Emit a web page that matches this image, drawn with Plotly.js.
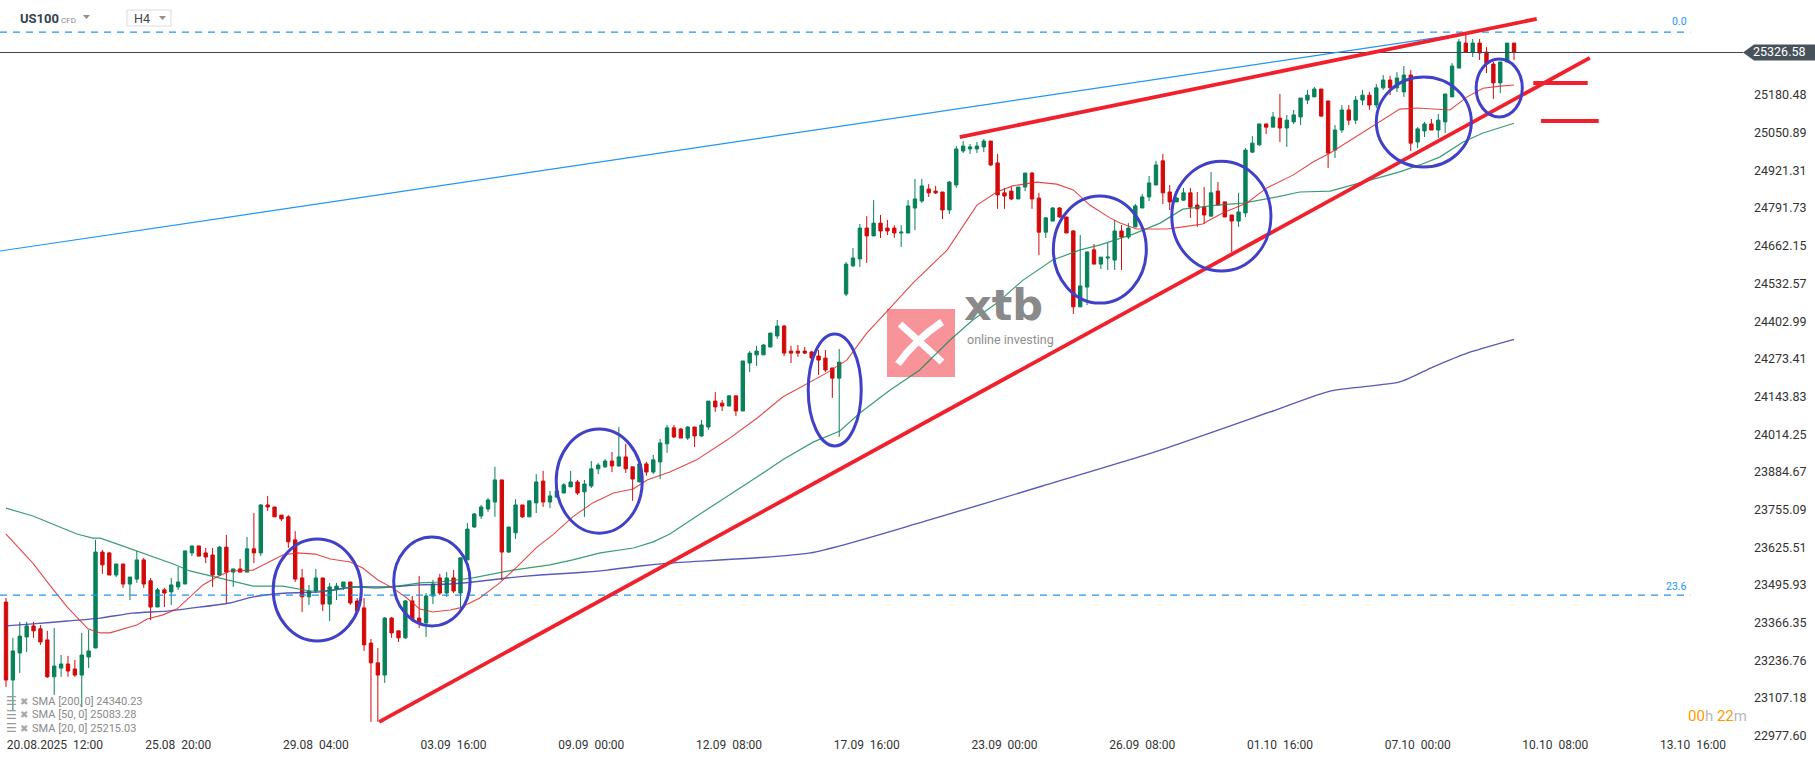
<!DOCTYPE html>
<html><head><meta charset="utf-8">
<script src="https://cdn.plot.ly/plotly-3.0.1.min.js"></script>
<style>html,body{margin:0;padding:0;background:#fff;overflow:hidden}#chart{width:1815px;height:761px}</style>
</head><body><div id="chart"></div>
<script>
// ---------- DATA (US100 CFD, H4) ----------
const open = [23437,23169,23262,23317,23355,23345,23307,23180,23210,23224,23207,23186,23248,23279,23609,23606,23530,23568,23499,23516,
23582,23510,23420,23479,23472,23489,23499,23606,23630,23606,23599,23530,23626,23540,23551,23540,23620,23606,23771,23764,
23736,23730,23651,23520,23455,23475,23520,23430,23482,23489,23506,23441,23417,23296,23228,23186,23382,23338,23314,23441,
23382,23365,23458,23520,23468,23520,23468,23582,23695,23733,23757,23781,23857,23609,23675,23771,23730,23778,23853,23781,
23798,23812,23833,23850,23816,23836,23895,23902,23922,23905,23936,23902,23850,23912,23884,23919,23981,24036,24032,24001,
24039,24008,24039,24128,24121,24111,24146,24094,24259,24287,24287,24314,24352,24386,24300,24300,24300,24297,24283,24276,
24242,24207,24496,24593,24617,24723,24696,24740,24723,24723,24706,24706,24792,24816,24857,24850,24847,24785,24871,24988,
24995,24995,25002,25022,24947,24844,24850,24823,24864,24912,24826,24709,24747,24792,24761,24713,24452,24520,24648,24599,
24620,24613,24713,24692,24727,24792,24830,24871,24954,24847,24813,24819,24844,24802,24795,24764,24850,24813,24768,24747,
24775,24984,25009,25081,25070,25101,25067,25088,25105,25163,25174,25201,25160,24991,25060,25129,25094,25163,25180,25146,
25205,25232,25205,25191,25249,25019,25057,25081,25060,25088,25174,25273,25359,25328,25359,25328,25287,25222,25294,25359];
const high = [23451,23314,23369,23369,23369,23358,23338,23348,23255,23252,23238,23331,23341,23651,23616,23609,23568,23568,23523,23613,
23589,23520,23486,23486,23520,23558,23613,23630,23630,23623,23623,23630,23668,23551,23585,23661,23743,23774,23802,23764,
23736,23736,23681,23551,23496,23551,23520,23503,23503,23506,23506,23451,23451,23310,23279,23386,23386,23338,23444,23458,
23527,23468,23513,23534,23540,23547,23589,23709,23743,23771,23795,23902,23857,23695,23791,23771,23785,23877,23888,23819,
23826,23846,23888,23857,23857,23922,23915,23929,23953,24039,23981,23902,23912,23919,23943,23998,24046,24046,24036,24042,
24039,24063,24128,24159,24132,24149,24146,24266,24300,24318,24324,24362,24407,24390,24318,24321,24314,24300,24304,24304,
24242,24307,24606,24654,24737,24764,24819,24768,24751,24733,24733,24819,24892,24892,24874,24868,24847,24885,25005,25022,
25012,25019,25029,25022,24978,24861,24864,24864,24912,24916,24844,24761,24795,24795,24761,24716,24699,24641,24668,24623,
24672,24751,24733,24740,24806,24840,24902,24954,24978,24871,24830,24861,24861,24847,24864,24916,24881,24813,24768,24844,
24998,25039,25081,25081,25122,25184,25112,25129,25170,25198,25208,25201,25160,25077,25146,25146,25177,25198,25191,25218,
25249,25246,25259,25280,25266,25070,25088,25098,25115,25184,25290,25373,25394,25373,25373,25345,25294,25294,25359,25359];
const low = [23145,23066,23193,23265,23314,23290,23176,23118,23180,23180,23180,23076,23210,23279,23534,23530,23523,23486,23444,23503,
23486,23375,23420,23420,23427,23479,23499,23595,23595,23571,23489,23530,23434,23489,23540,23540,23571,23595,23750,23730,
23716,23623,23506,23403,23427,23468,23406,23372,23444,23479,23427,23400,23269,23025,23025,23159,23314,23300,23310,23369,
23348,23317,23430,23461,23455,23468,23417,23582,23692,23723,23747,23730,23513,23606,23654,23726,23730,23743,23764,23760,
23795,23812,23833,23805,23730,23829,23877,23898,23884,23902,23881,23785,23850,23871,23877,23860,23950,24001,24001,23994,
23970,24005,24029,24091,24094,24111,24077,24094,24228,24249,24287,24314,24342,24283,24259,24280,24290,24269,24218,24228,
24139,24005,24489,24589,24589,24603,24696,24689,24699,24689,24658,24706,24716,24809,24830,24840,24754,24771,24861,24981,
24978,24981,24984,24936,24789,24789,24819,24823,24850,24789,24630,24689,24747,24758,24706,24428,24452,24458,24599,24582,
24579,24579,24579,24685,24727,24792,24816,24871,24806,24785,24813,24816,24758,24727,24737,24764,24802,24761,24641,24727,
24761,24981,25005,25046,25070,25019,25002,25081,25077,25149,25174,25105,24929,24964,25050,25077,25081,25146,25129,25136,
25198,25180,25191,25174,24988,24998,25036,25060,25033,25050,25174,25273,25325,25311,25301,25256,25167,25187,25294,25301];
const close = [23169,23269,23320,23355,23338,23300,23180,23217,23224,23200,23186,23255,23269,23609,23565,23530,23568,23499,23523,23582,
23499,23420,23479,23468,23496,23506,23613,23630,23595,23592,23530,23626,23540,23551,23540,23620,23606,23771,23764,23730,
23723,23644,23516,23455,23475,23520,23430,23489,23492,23506,23434,23406,23290,23228,23186,23382,23331,23314,23441,23379,
23365,23458,23499,23468,23520,23475,23589,23688,23740,23764,23788,23857,23609,23695,23771,23730,23785,23850,23781,23802,
23819,23840,23850,23812,23843,23895,23908,23922,23905,23936,23895,23860,23912,23884,23926,23984,24036,24005,24001,24039,
24008,24046,24128,24108,24111,24146,24094,24266,24293,24300,24321,24362,24386,24293,24293,24293,24293,24276,24269,24235,
24207,24262,24599,24620,24723,24696,24740,24713,24713,24706,24709,24799,24823,24868,24844,24844,24785,24881,24995,25005,
25002,25005,25022,24940,24837,24833,24823,24864,24912,24823,24709,24758,24792,24761,24706,24452,24524,24641,24599,24623,
24623,24713,24692,24723,24799,24830,24878,24940,24844,24813,24826,24844,24795,24789,24768,24844,24802,24761,24747,24778,
24991,25015,25081,25070,25105,25067,25094,25112,25170,25180,25201,25108,24981,25060,25129,25094,25163,25180,25146,25205,
25232,25205,25239,25249,25015,25064,25081,25060,25094,25184,25280,25363,25328,25359,25325,25290,25222,25294,25359,25326.58];

// Simple moving averages (bar position, value)
const sma20Bar = [0,3.9,6.1,8.9,11.9,13.7,15.1,17.0,19.0,20.5,22.8,24.8,26.7,28.6,30.6,32.5,35.9,38.3,40.2,42.3,44.9,47.1,50.0,51.8,54.0,56.2,58.2,60.1,62.0,64.5,65.9,68.8,71.7,74.2,77.1,79.4,82.3,85.2,88.2,91.1,93.1,96.4,100.3,104.7,109.1,112.8,116.8,119.2,122.1,125.0,128.1,131.7,136.7,141.0,143.9,146.2,149.7,152.6,155.0,157.4,160.3,161.8,164.2,168.6,170.9,173.8,174.8,176.7,180.2,183.1,186.9,189.8,192.3,202.4,204.9,209.7,212.2,214.5,217.0,219];
const sma20Val = [23671,23571,23503,23420,23345,23331,23331,23345,23358,23379,23393,23413,23455,23496,23523,23544,23547,23575,23599,23606,23602,23585,23575,23554,23513,23485,23451,23413,23403,23410,23417,23451,23503,23558,23626,23668,23730,23778,23812,23826,23857,23884,23926,23994,24070,24142,24194,24225,24269,24362,24441,24534,24648,24802,24847,24868,24881,24874,24854,24802,24758,24740,24720,24720,24727,24737,24751,24775,24809,24861,24905,24950,24981,25132,25136,25129,25174,25204,25211,25215.03];
const sma50Bar = [0,3.9,6.4,10.3,12.6,13.7,16.6,19.0,21.3,24.3,26.7,29.2,32.5,35.9,40.2,44.1,47.1,50.4,53.9,56.2,60.1,63.0,67.8,70.7,73.6,79.0,82.3,86.3,91.1,94.0,96.4,99.9,105.1,109.5,112.8,117.2,121.1,124.0,128.4,132.7,137.1,140.4,143.9,147.7,152.0,156.0,158.9,163.7,167.6,170.9,175.9,179.6,184.6,187.9,192.3,202.4,205.3,208.2,211.6,214.5,219];
const sma50Val = [23760,23733,23709,23671,23657,23657,23633,23613,23592,23568,23544,23530,23510,23492,23492,23475,23475,23489,23485,23489,23503,23506,23520,23534,23547,23565,23582,23606,23623,23644,23671,23726,23805,23874,23926,23987,24025,24087,24166,24235,24338,24407,24465,24544,24613,24648,24665,24702,24740,24788,24802,24809,24830,24847,24850,24916,24940,24967,25019,25050,25083.28];
const sma200Bar = [0,3.9,8.9,13.7,18.4,23.4,28.2,32.5,35.9,40.8,45.6,50.4,55.3,60.1,64.5,67.8,72.8,77.5,82.3,87.3,92.1,96.4,116.8,133.6,150.5,167.2,184.0,192.4,202.4,207.2,212.2,219];
const sma200Val = [23355,23362,23372,23382,23399,23406,23420,23434,23455,23468,23472,23489,23489,23496,23499,23506,23520,23530,23537,23547,23561,23571,23606,23716,23836,23956,24094,24163,24194,24245,24293,24340.23];
const smaNames = ['SMA [200, 0]','SMA [50, 0]','SMA [20, 0]'];

// Axis labels
const xTickLabels = ['20.08.2025\u00a0 12:00','25.08\u00a0 20:00','29.08\u00a0 04:00','03.09\u00a0 16:00','09.09\u00a0 00:00','12.09\u00a0 08:00','17.09\u00a0 16:00','23.09\u00a0 00:00','26.09\u00a0 08:00','01.10\u00a0 16:00','07.10\u00a0 00:00','10.10\u00a0 08:00','13.10\u00a0 16:00'];
const xTickBars = [7.1,25,45,65,85,105,125,145,165,185,205,225,245];
const yTickVals = [22977.60,23107.18,23236.76,23366.35,23495.93,23625.51,23755.09,23884.67,24014.25,24143.83,24273.41,24402.99,24532.57,24662.15,24791.73,24921.31,25050.89,25180.48];

// Analyst drawings (bar position, price)
const fibLevels = [{label:'0.0', price:25397}, {label:'23.6', price:23461}];
const fibEndBar = 244.6;
const blueTrend = {bars:[-0.871,212.2], prices:[24644,25393]};
const upperTrend = {bars:[138.5,222.3], prices:[25036,25442]};
const lowerTrend = {bars:[54.2,230.0], prices:[23025,25308]};
const levelMarks = [{bars:[221.8,229.7], price:25222},{bars:[222.9,231.3], price:25091}];
const circles = [
  {bars:[38.8,51.6], prices:[23303,23654]},
  {bars:[56.3,67.4], prices:[23355,23661]},
  {bars:[79.9,92.4], prices:[23674,24032]},
  {bars:[116.5,124.2], prices:[23974,24359]},
  {bars:[152.1,165.6], prices:[24465,24833]},
  {bars:[169.3,183.7], prices:[24575,24953]},
  {bars:[199.0,212.8], prices:[24933,25242]},
  {bars:[213.5,220.2], prices:[25105,25304]}
];

// ---------- PLOT ----------
const W=1815, H=761, M={l:0,r:72,t:0,b:25};
const PW=W-M.l-M.r, PH=H-M.t-M.b;
const barPx=6.886, firstPx=6;
const xr=[-firstPx/barPx, -firstPx/barPx + PW/barPx];
const yr=[22976.52, 25507.12];
const px = x => x/PW;            // pixel -> paper x
const py = y => 1 - y/PH;        // pixel -> paper y
const pp = p => (p-yr[0])/(yr[1]-yr[0]); // price -> paper y

const G='#07815a', R='#d30a0a';
const bars = open.map((_,i)=>i);
const lastClose = close[close.length-1];

const traces = [
 {type:'candlestick', x:bars, open:open, high:high, low:low, close:close,
  increasing:{line:{color:G,width:1},fillcolor:G}, decreasing:{line:{color:R,width:1},fillcolor:R},
  whiskerwidth:0, hoverinfo:'skip'},
 {type:'scatter', mode:'lines', x:sma200Bar, y:sma200Val, line:{color:'rgba(60,60,170,0.85)',width:1.4,shape:'spline',smoothing:0.6}, hoverinfo:'skip'},
 {type:'scatter', mode:'lines', x:sma50Bar, y:sma50Val, line:{color:'rgba(22,140,90,0.85)',width:1.2}, hoverinfo:'skip'},
 {type:'scatter', mode:'lines', x:sma20Bar, y:sma20Val, line:{color:'rgba(225,40,40,0.85)',width:1.1}, hoverinfo:'skip'}
];

const shapes = [];
shapes.push({type:'line', xref:'paper', yref:'paper', x0:0, x1:1, y0:pp(lastClose), y1:pp(lastClose), line:{color:'#3b4650',width:1}, layer:'above'});
fibLevels.forEach(f=>shapes.push({type:'line', xref:'x', yref:'y', x0:xr[0], x1:fibEndBar, y0:f.price, y1:f.price, line:{color:'#2196f3',width:1.2,dash:'7px,6px'}, layer:'above'}));
shapes.push({type:'line', xref:'x', yref:'y', x0:blueTrend.bars[0], x1:blueTrend.bars[1], y0:blueTrend.prices[0], y1:blueTrend.prices[1], line:{color:'#2196f3',width:1.2}, layer:'above'});
[upperTrend, lowerTrend].forEach(t=>shapes.push({type:'line', xref:'x', yref:'y', x0:t.bars[0], x1:t.bars[1], y0:t.prices[0], y1:t.prices[1], line:{color:'#f0202c',width:3.8}, layer:'above'}));
levelMarks.forEach(l=>shapes.push({type:'line', xref:'x', yref:'y', x0:l.bars[0], x1:l.bars[1], y0:l.price, y1:l.price, line:{color:'#f0202c',width:4}, layer:'above'}));
circles.forEach(c=>shapes.push({type:'circle', xref:'x', yref:'y', x0:c.bars[0], x1:c.bars[1], y0:c.prices[0], y1:c.prices[1], line:{color:'#4040c8',width:3}, fillcolor:'rgba(0,0,0,0)', layer:'above'}));
// price tag
const tY=pp(lastClose), tH=8/PH;
shapes.push({type:'path', xref:'paper', yref:'paper', path:`M ${px(PW)} ${tY} L ${px(PW+11)} ${tY+tH} L ${px(W)} ${tY+tH} L ${px(W)} ${tY-tH} L ${px(PW+11)} ${tY-tH} Z`, fillcolor:'#48525b', line:{width:0}, layer:'above'});
// xtb watermark square
shapes.push({type:'rect', xref:'paper', yref:'paper', x0:px(887), x1:px(955), y0:py(377), y1:py(309), fillcolor:'rgba(245,120,128,0.8)', line:{width:0}, layer:'below'});
shapes.push({type:'path', xref:'paper', yref:'paper', path:`M ${px(900)} ${py(324)} L ${px(942)} ${py(362)}`, line:{color:'#fff',width:7}, layer:'below'});
shapes.push({type:'path', xref:'paper', yref:'paper', path:`M ${px(942)} ${py(322)} Q ${px(915)} ${py(340)} ${px(898)} ${py(364)}`, line:{color:'#fff',width:7}, layer:'below'});
// header H4 box and dropdown arrows
shapes.push({type:'rect', xref:'paper', yref:'paper', x0:px(127), x1:px(171), y0:py(26), y1:py(10), line:{color:'#dcdcdc',width:1}, fillcolor:'#fff', layer:'above'});
[[83,15],[159,16]].forEach(a=>shapes.push({type:'path', xref:'paper', yref:'paper', path:`M ${px(a[0])} ${py(a[1])} L ${px(a[0]+7)} ${py(a[1])} L ${px(a[0]+3.5)} ${py(a[1]+4)} Z`, fillcolor:'#8f8f8f', line:{width:0}, layer:'above'}));

const ann = [];
const A = (x,y,text,size,color,opts) => ann.push(Object.assign({xref:'paper', yref:'paper', x:px(x), y:py(y), text:text, showarrow:false, xanchor:'left', yanchor:'middle', borderpad:0, font:{family:'Roboto', size:size, color:color}}, opts||{}));
A(19,19,'<b>US100</b>',13,'#36414c');
A(60,20,'CFD',8,'#8c8c8c');
A(133,18.5,'H4',12.5,'#444');
fibLevels.forEach((f,i)=>A((i===0?1679:1676),(i===0?21.5:586),f.label,10.5,'#2196f3',{xanchor:'center'}));
A(1779,52,lastClose.toFixed(2),12.5,'#ffffff',{xanchor:'center'});
A(1717,716,'<span style="color:#ff9800">00</span><span style="color:#b8b8b8">h</span> <span style="color:#ff9800">22</span><span style="color:#b8b8b8">m</span>',15,'#ff9800',{xanchor:'center'});
const smaLast=[sma200Val[sma200Val.length-1], sma50Val[sma50Val.length-1], sma20Val[sma20Val.length-1]];
smaNames.forEach((n,i)=>{
  const y=701+i*13.5;
  A(5,y,'☰',12,'#9a9a9a',{font:{family:'DejaVu Sans',size:12,color:'#9a9a9a'}});
  A(19,y,'✖',10,'#a8a8a8',{font:{family:'DejaVu Sans',size:10,color:'#a8a8a8'}});
  A(31,y,n+' '+smaLast[i].toFixed(2),11,'#8a8a8a');
});
A(963,305,'<b>xtb</b>',43,'#8a8a8a',{font:{family:'DejaVu Sans',size:43,color:'#8a8a8a'}});
A(966,339,'online investing',12.5,'#8e8e8e');

const layout = {
  width:W, height:H, margin:{l:M.l,r:M.r,t:M.t,b:M.b,pad:0},
  paper_bgcolor:'#fff', plot_bgcolor:'#fff', showlegend:false,
  xaxis:{type:'linear', range:xr, showgrid:false, zeroline:false, showline:false, ticks:'',
         tickvals:xTickBars, ticktext:xTickLabels, tickfont:{family:'Roboto',size:12,color:'#333'},
         rangeslider:{visible:false}, fixedrange:true},
  yaxis:{side:'right', range:yr, showgrid:false, zeroline:false, showline:false, ticks:'',
         tickvals:yTickVals, ticktext:yTickVals.map(v=>v.toFixed(2)), tickfont:{family:'Roboto',size:12.5,color:'#333'},
         ticklabelstandoff:10, fixedrange:true},
  shapes:shapes, annotations:ann
};
Plotly.newPlot('chart', traces, layout, {staticPlot:true, displayModeBar:false});
</script></body></html>
